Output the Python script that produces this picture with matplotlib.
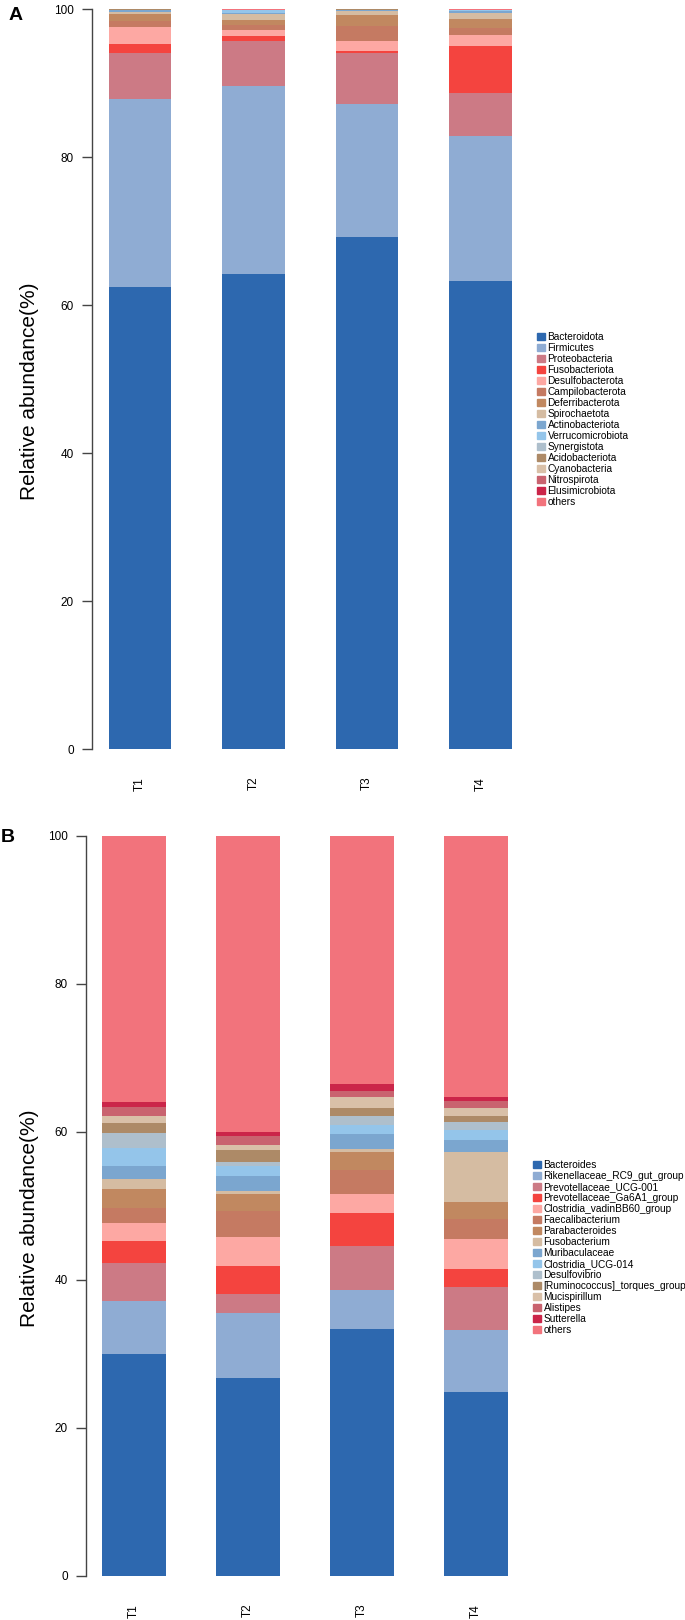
import numpy as np
import matplotlib
matplotlib.use("Agg")
import matplotlib.pyplot as plt
from matplotlib.patches import Patch

plt.rcParams['font.family'] = ['Liberation Sans', 'DejaVu Sans']

samples = ['T1', 'T2', 'T3', 'T4']

# panel A: phylum level (bottom -> top)
phyla = ['Bacteroidota', 'Firmicutes', 'Proteobacteria', 'Fusobacteriota',
         'Desulfobacterota', 'Campilobacterota', 'Deferribacterota',
         'Spirochaetota', 'Actinobacteriota', 'Verrucomicrobiota',
         'Synergistota', 'Acidobacteriota', 'Cyanobacteria', 'Nitrospirota',
         'Elusimicrobiota', 'others']
phylum_t1 = [62.4, 25.5, 6.1, 1.3, 2.3, 0.8, 0.9, 0.36, 0.15, 0.05, 0.05, 0.03, 0.02, 0.02, 0.01, 0.01]
phylum_t2 = [64.2, 25.4, 6.1, 0.6, 0.8, 0.7, 0.65, 0.9, 0.15, 0.3, 0.05, 0.02, 0.02, 0.02, 0.01, 0.05]
phylum_t3 = [69.2, 17.9, 6.9, 0.35, 1.3, 2.0, 1.6, 0.45, 0.15, 0.05, 0.03, 0.02, 0.02, 0.02, 0.01, 0.02]
phylum_t4 = [63.2, 19.6, 5.9, 6.3, 1.5, 0.9, 1.2, 0.9, 0.2, 0.1, 0.03, 0.02, 0.02, 0.02, 0.01, 0.05]

# panel B: genus level (bottom -> top)
genera = ['Bacteroides', 'Rikenellaceae_RC9_gut_group', 'Prevotellaceae_UCG-001',
          'Prevotellaceae_Ga6A1_group', 'Clostridia_vadinBB60_group',
          'Faecalibacterium', 'Parabacteroides', 'Fusobacterium',
          'Muribaculaceae', 'Clostridia_UCG-014', 'Desulfovibrio',
          '[Ruminococcus]_torques_group', 'Mucispirillum', 'Alistipes',
          'Sutterella', 'others']
genus_t1 = [30.0, 7.2, 5.1, 3.0, 2.4, 2.0, 2.6, 1.4, 1.7, 2.4, 2.0, 1.4, 0.9, 1.3, 0.6, 36.0]
genus_t2 = [26.7, 8.8, 2.6, 3.8, 3.9, 3.5, 2.3, 0.45, 2.0, 1.35, 0.6, 1.6, 0.6, 1.3, 0.5, 40.0]
genus_t3 = [33.4, 5.2, 6.0, 4.4, 2.6, 3.3, 2.4, 0.4, 2.0, 1.3, 1.1, 1.1, 1.5, 0.8, 1.0, 33.5]
genus_t4 = [24.8, 8.5, 5.7, 2.5, 4.1, 2.6, 2.3, 6.8, 1.6, 1.4, 1.1, 0.8, 1.1, 0.9, 0.5, 35.3]

colors = ['#2D68AF', '#8FACD3', '#CC7A85', '#F4443F', '#FDA8A3', '#C57A62',
          '#C18860', '#D5BCA2', '#7BA6CF', '#94C5EA', '#AEBFCC', '#AD8A67',
          '#D9C0A8', '#C9636F', '#CB2549', '#F2737C']

W, H = 685, 1620
fig = plt.figure(figsize=(W / 100, H / 100), dpi=100)


def panel(rect, names, table, xlim, leg_xy, letter, letter_xy, lab_x):
    ax = fig.add_axes(rect)
    data = np.array(table).T  # taxa x samples
    x = np.arange(len(samples))
    bottom = np.zeros(len(samples))
    for i, name in enumerate(names):
        ax.bar(x, data[i], 0.555, bottom=bottom, color=colors[i], linewidth=0)
        bottom += data[i]
    ax.set_xlim(*xlim)
    ax.set_ylim(0, 100)
    for s in ['top', 'right', 'bottom']:
        ax.spines[s].set_visible(False)
    ax.spines['left'].set_color('#444444')
    ax.spines['left'].set_linewidth(1.0)
    ax.set_yticks([0, 20, 40, 60, 80, 100])
    ax.tick_params(axis='y', length=7, width=1.0, color='#444444', labelsize=8.5, pad=6)
    ax.set_xticks(x)
    ax.set_xticklabels(samples, rotation=90, fontsize=8.5)
    ax.tick_params(axis='x', length=0, pad=20)
    ax.set_ylabel('Relative abundance(%)', fontsize=15)
    ax.yaxis.set_label_coords(lab_x, 0.483)
    handles = [Patch(color=colors[i], label=n) for i, n in enumerate(names)]
    ax.legend(handles=handles, loc='upper left',
              bbox_to_anchor=(leg_xy[0] / W, 1 - leg_xy[1] / H),
              bbox_transform=fig.transFigure, frameon=False, fontsize=7.3,
              handlelength=0.79, handleheight=0.6, handletextpad=0.25,
              labelspacing=0.1, borderpad=0, borderaxespad=0)
    fig.text(letter_xy[0] / W, 1 - letter_xy[1] / H, letter, fontsize=14,
             fontweight='bold', ha='center', va='center')
    return ax


# panel A: axis at x=92 px, 100 at y=9, 0 at y=749
panel([92 / W, 1 - 749 / H, (520 - 92) / W, 740 / H], phyla,
      [phylum_t1, phylum_t2, phylum_t3, phylum_t4],
      ((92 - 140) / 113.5, (520 - 140) / 113.5), (537, 332), 'A', (16, 15),
      (39 - 92) / 428)

# panel B: axis at x=86 px, 100 at y=836, 0 at y=1576
panel([86 / W, 1 - 1576 / H, (520 - 86) / W, 740 / H], genera,
      [genus_t1, genus_t2, genus_t3, genus_t4],
      ((86 - 134) / 114, (520 - 134) / 114), (533, 1160), 'B', (8, 837),
      (39 - 86) / 434)

fig.savefig('out.png', dpi=100)
